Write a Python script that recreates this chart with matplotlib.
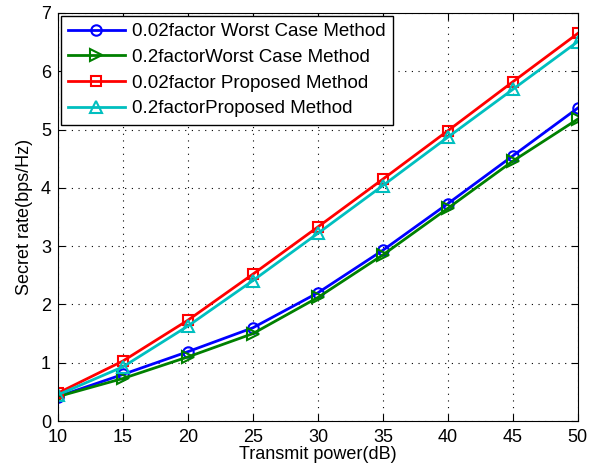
import numpy as np
import matplotlib.pyplot as plt

plt.rcParams['font.family'] = ['Liberation Sans', 'DejaVu Sans']

power = [10, 15, 20, 25, 30, 35, 40, 45, 50]
worst_002 = [0.42, 0.80, 1.19, 1.60, 2.20, 2.93, 3.73, 4.55, 5.37]
worst_02 = [0.42, 0.73, 1.10, 1.50, 2.12, 2.85, 3.65, 4.46, 5.18]
prop_002 = [0.48, 1.03, 1.73, 2.52, 3.33, 4.15, 4.98, 5.82, 6.65]
prop_02 = [0.45, 0.93, 1.63, 2.41, 3.22, 4.04, 4.87, 5.69, 6.51]

labels = ['0.02factor Worst Case Method', '0.2factorWorst Case Method',
          '0.02factor Proposed Method', '0.2factorProposed Method']

fig = plt.figure(figsize=(6.01, 4.72), dpi=100)
ax = fig.add_axes([0.0965, 0.108, 0.865, 0.8645])

ax.plot(power, worst_002, '-o', color='b', lw=2, ms=7.5, mfc='none', mew=1.5, label=labels[0])
ax.plot(power, worst_02, '->', color='g', lw=2, ms=8, mfc='none', mew=1.5, label=labels[1])
ax.plot(power, prop_002, '-s', color='r', lw=2, ms=7, mfc='none', mew=1.5, label=labels[2])
ax.plot(power, prop_02, '-^', color='c', lw=2, ms=8, mfc='none', mew=1.5, label=labels[3])

ax.set_xlim(10, 50)
ax.set_ylim(0, 7)
ax.set_xticks(np.arange(10, 51, 5))
ax.set_yticks(np.arange(0, 8, 1))
ax.grid(True, linestyle=(0, (1, 5)), color='k', lw=0.8)
ax.tick_params(direction='in', labelsize=13, top=True, right=True, length=5)
ax.tick_params(axis='x', pad=6)
ax.tick_params(axis='y', pad=5)
ax.set_xlabel('Transmit power(dB)', fontsize=13, labelpad=0)
ax.set_ylabel('Secret rate(bps/Hz)', fontsize=13, labelpad=6)

leg = ax.legend(loc='upper left', fontsize=13.5, fancybox=False, framealpha=1,
                edgecolor='k', handlelength=3.0, handletextpad=0.4,
                borderaxespad=0.15, labelspacing=0.45, borderpad=0.4)
leg.get_frame().set_linewidth(1.0)

fig.savefig('out.png')
